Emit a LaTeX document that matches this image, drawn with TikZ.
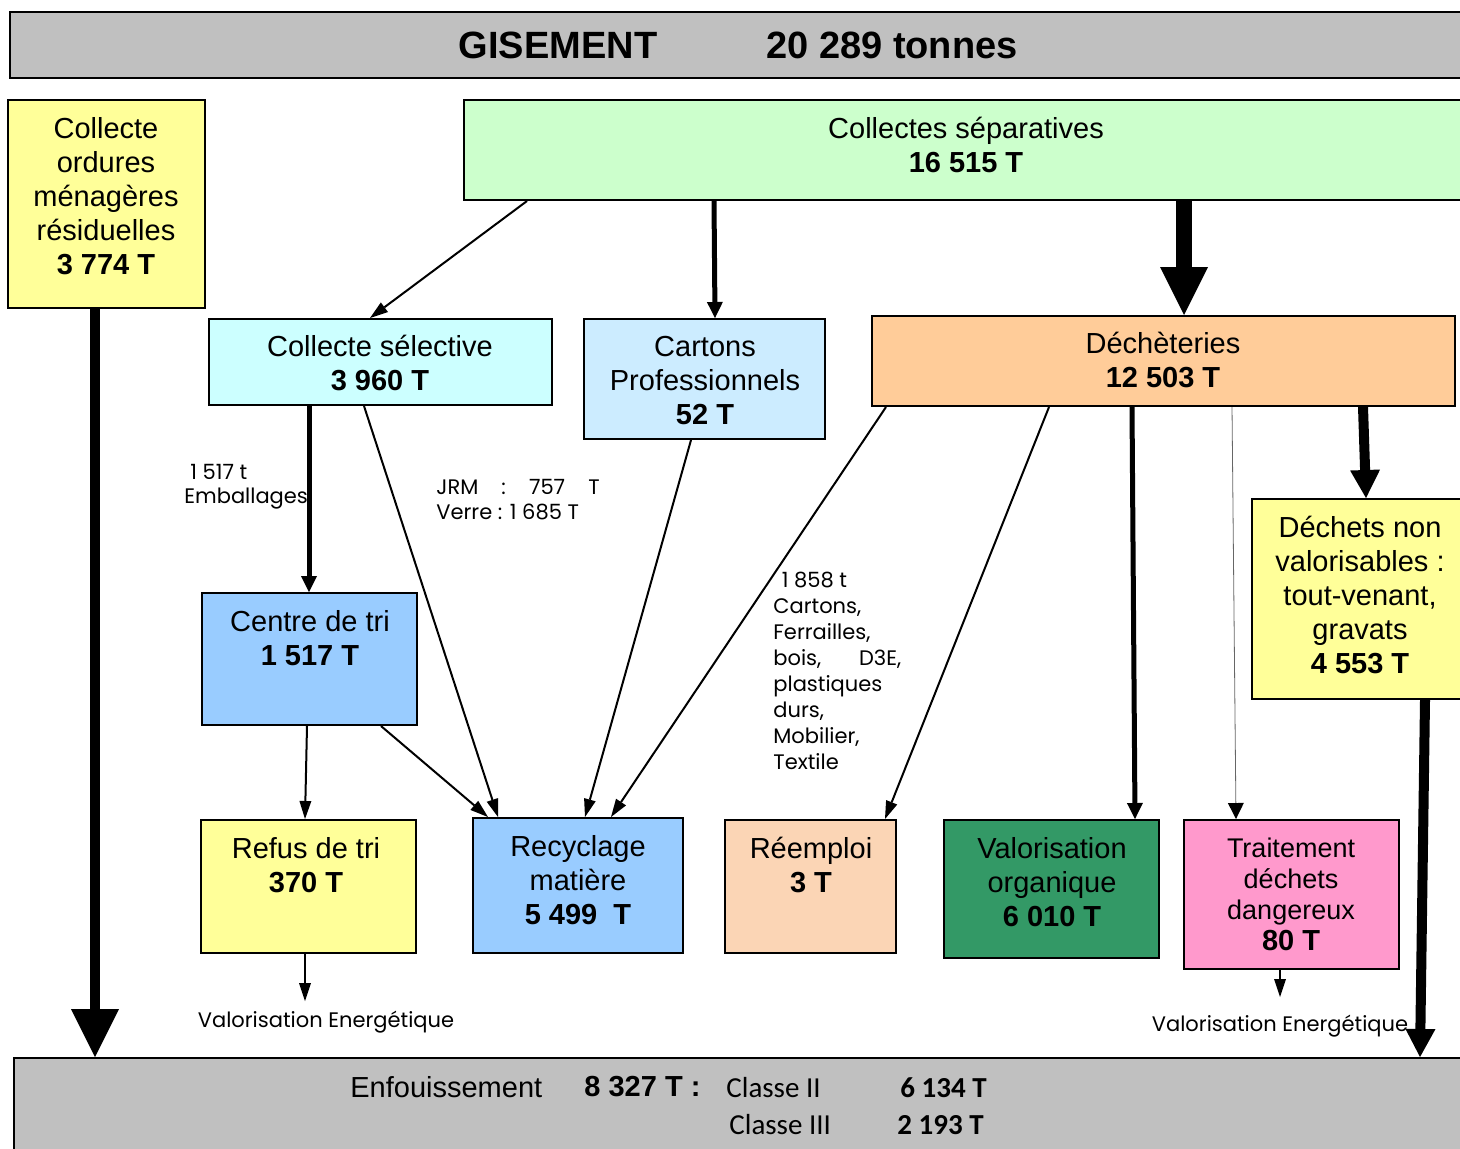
\documentclass[tikz,border=0pt]{standalone}
\usepackage{fontspec}
\setmainfont{Liberation Sans}
\newfontfamily\gothic{Poppins}
\newfontfamily\calib{Carlito}
\usetikzlibrary{arrows.meta,fit}
\definecolor{cgray}{HTML}{C0C0C0}
\definecolor{cyellow}{HTML}{FFFF99}
\definecolor{cgreen}{HTML}{CCFFCC}
\definecolor{ccyan}{HTML}{CCFFFF}
\definecolor{cblueA}{HTML}{CCECFF}
\definecolor{corange}{HTML}{FFCC99}
\definecolor{cblueB}{HTML}{99CCFF}
\definecolor{cpeach}{HTML}{FBD5B5}
\definecolor{cdkgreen}{HTML}{339966}
\definecolor{cpink}{HTML}{FF99CC}
\begin{document}
\begin{tikzpicture}[x=0.5pt,y=-0.5pt,
  box/.style={draw=black, line width=1pt, inner sep=0pt},
  txt/.style={inner sep=0pt, align=center, font=\fontsize{14.5}{17}\selectfont},
  small/.style={inner sep=0pt, anchor=west, font=\calib\fontsize{14.5}{16}\selectfont},
  smallb/.style={inner sep=0pt, anchor=west, font=\calib\fontsize{14.5}{16}\selectfont\bfseries},
  lbl/.style={inner sep=0pt, align=left, font=\gothic\fontsize{10.5}{13}\selectfont},
  thinarrow/.style={line width=1pt, -{Triangle[width=6pt,length=9pt,line width=0pt]}},
  midarrow/.style={line width=2.5pt, -{Triangle[width=8pt,length=8pt,line width=0pt]}},
  hairarrow/.style={line width=0.4pt, draw=black!60, -{Triangle[width=8pt,length=8pt,line width=0pt,fill=black]}},
  heavyarrow/.style={line width=5pt, -{Triangle[width=24pt,length=24pt,line width=0pt]}},
  heavierarrow/.style={line width=8pt, -{Triangle[width=24pt,length=24pt,line width=0pt]}},
  medarrow/.style={line width=5pt, -{Triangle[width=15pt,length=14pt,line width=0pt]}},
]
\useasboundingbox (0,0) rectangle (1460,1148);

% boxes
\node[box, fill=cgray, fit={(10,12)(1475,78)}] (gis) {};
\node[txt, font=\fontsize{19}{22}\selectfont\bfseries] (gisA) at (558,45) {GISEMENT};
\node[txt, font=\fontsize{19}{22}\selectfont\bfseries] (gisB) at (892,45) {20 289 tonnes};

\node[box, fill=cyellow, fit={(8,100)(205,308)}] (omr) {};
\node[txt] (omrT) at (106,196) {Collecte\\ordures\\ménagères\\résiduelles\\\textbf{3 774 T}};

\node[box, fill=cgreen, fit={(464,100)(1475,200)}] (sep) {};
\node[txt] (sepT) at (966,145) {Collectes séparatives\\\textbf{16 515 T}};

\node[box, fill=ccyan, fit={(209,319)(552,405)}] (csel) {};
\node[txt] (cselT) at (380,363) {Collecte sélective\\\textbf{3 960 T}};

\node[box, fill=cblueA, fit={(584,319)(825,439)}] (cart) {};
\node[txt] (cartT) at (705,381) {Cartons\\Professionnels\\\textbf{52 T}};

\node[box, fill=corange, fit={(872,316)(1455,406)}] (dech) {};
\node[txt] (dechT) at (1163,360) {Déchèteries\\\textbf{12 503 T}};

\node[box, fill=cyellow, fit={(1252,499)(1475,699)}] (dnv) {};
\node[txt] (dnvT) at (1360,595) {Déchets non\\valorisables :\\tout-venant,\\gravats\\\textbf{4 553 T}};

\node[box, fill=cblueB, fit={(202,593)(417,725)}] (ctri) {};
\node[txt] (ctriT) at (310,638) {Centre de tri\\\textbf{1 517 T}};

\node[box, fill=cyellow, fit={(201,820)(416,953)}] (refus) {};
\node[txt] (refusT) at (306,865) {Refus de tri\\\textbf{370 T}};

\node[box, fill=cblueB, fit={(473,818)(683,953)}] (recy) {};
\node[txt] (recyT) at (578,880) {Recyclage\\matière\\\textbf{5 499~~T}};

\node[box, fill=cpeach, fit={(725,820)(896,953)}] (reem) {};
\node[txt] (reemT) at (811,865) {Réemploi\\\textbf{3 T}};

\node[box, fill=cdkgreen, fit={(944,820)(1159,958)}] (vorg) {};
\node[txt] (vorgT) at (1052,882) {Valorisation\\organique\\\textbf{6 010 T}};

\node[box, fill=cpink, fit={(1184,820)(1399,969)}] (ddd) {};
\node[txt, font=\fontsize{13.5}{15.5}\selectfont] (dddT) at (1291,894) {Traitement\\déchets\\dangereux\\{\fontsize{14.5}{15.5}\selectfont\bfseries 80 T}};

\node[box, fill=cgray, fit={(14,1058)(1475,1160)}] (enf) {};
\node[txt, anchor=west] (enfA) at (350,1087) {Enfouissement};
\node[txt, anchor=west, font=\fontsize{14.5}{17}\selectfont\bfseries] (enfB) at (584,1087) {8 327 T :};
\node[small] (c2) at (726,1088) {Classe II};
\node[smallb] (c2v) at (900,1088) {6 134 T};
\node[small] (c3) at (729,1125) {Classe III};
\node[smallb] (c3v) at (897,1125) {2 193 T};

% labels
\node[lbl, anchor=west] (l1517) at (190,472) {1 517 t};
\node[lbl, anchor=west] (lemb) at (184,499) {Emballages};
\node[lbl, anchor=west] (ljrm) at (436,487) {JRM\hspace{1.1em}:\hspace{1.1em}757\hspace{1.1em}T};
\node[lbl, anchor=west] (lverre) at (436,512) {Verre : 1 685 T};
\node[lbl, anchor=north west] (l1858) at (773,572) {\hspace{0.4em}1 858 t\\Cartons,\\Ferrailles,\\bois,\hspace{1.8em}D3E,\\plastiques\\durs,\\Mobilier,\\Textile};
\node[lbl, anchor=center] (ve1) at (326,1022) {Valorisation Energétique};
\node[lbl, anchor=center] (ve2) at (1280,1026) {Valorisation Energétique};
\coordinate (ve1top) at (305,1001);
\coordinate (ve2top) at (1280,997);

% connectors
\draw[heavyarrow] (omr.south -| 95,0) -- (enf.north -| 95,0);
\draw[thinarrow] (sep.south -| 527,0) -- (csel.north -| 370,0);
\draw[midarrow] (sep.south -| 714,0) -- (cart.north -| 715,0);
\draw[heavierarrow] (sep.south -| 1184,0) -- (dech.north -| 1184,0);
\draw[midarrow] (csel.south -| 309,0) -- (ctri.north -| 309,0);
\draw[thinarrow] (csel.south -| 364,0) -- (recy.north -| 498,0);
\draw[thinarrow] (ctri.south -| 307,0) -- (refus.north -| 305,0);
\draw[thinarrow] (ctri.south -| 381,0) -- (recy.north -| 488,0);
\draw[thinarrow] (cart.south -| 691,0) -- (recy.north -| 585,0);
\draw[thinarrow] (dech.south -| 886,0) -- (recy.north -| 611,0);
\draw[thinarrow] (dech.south -| 1049,0) -- (reem.north -| 885,0);
\draw[midarrow] (dech.south -| 1132,0) -- (vorg.north -| 1135,0);
\draw[hairarrow] (dech.south -| 1232,0) -- (ddd.north -| 1236,0);
\draw[medarrow] (dech.south -| 1363,0) -- (dnv.north -| 1366,0);
\draw[medarrow] (dnv.south -| 1425,0) -- (enf.north -| 1420,0);
\draw[thinarrow] (refus.south -| 305,0) -- (ve1top);
\draw[thinarrow] (ddd.south -| 1280,0) -- (ve2top);
\end{tikzpicture}
\end{document}
